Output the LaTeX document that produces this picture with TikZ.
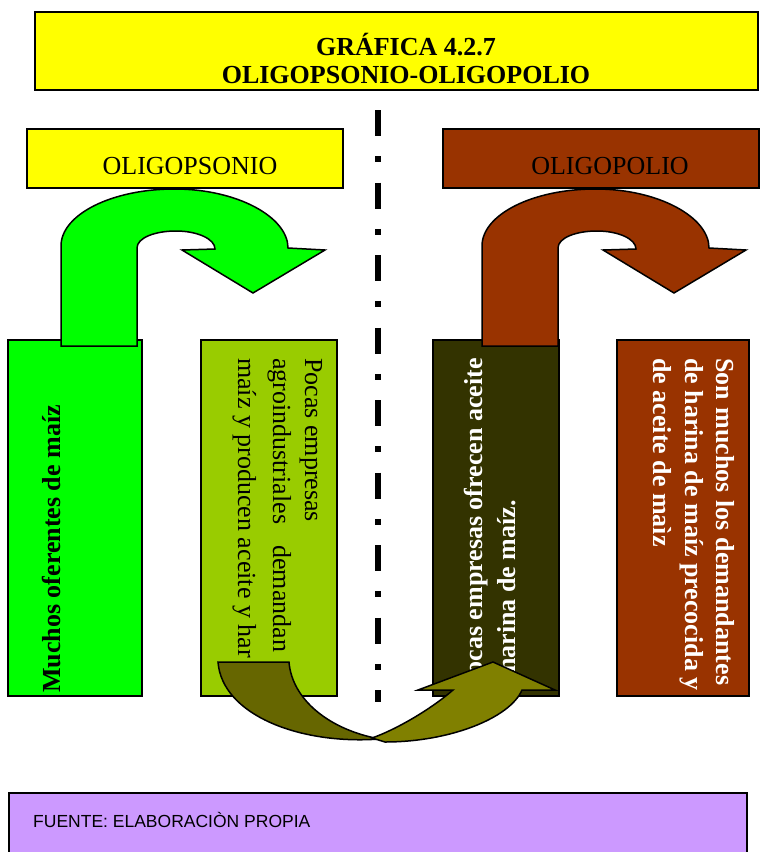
\documentclass[tikz,border=0pt]{standalone}
\usepackage{fontspec}
\setmainfont{Liberation Serif}
\newfontfamily\footfont{Liberation Sans}

\definecolor{paneyellow}{HTML}{FFFF00}
\definecolor{panegreen}{HTML}{00FF00}
\definecolor{panelime}{HTML}{99CC00}
\definecolor{panedark}{HTML}{333300}
\definecolor{panebrown}{HTML}{993300}
\definecolor{olivedark}{HTML}{666600}
\definecolor{olivelight}{HTML}{808000}
\definecolor{paneviolet}{HTML}{CC99FF}

\begin{document}
\begin{tikzpicture}[
  x=1pt, y=-1pt,
  panel/.style={draw=black, line width=2pt, inner sep=0pt, outer sep=0pt},
  big/.style={inner sep=0pt, font=\fontsize{26}{30}\selectfont},
  bigbold/.style={inner sep=0pt, font=\fontsize{26}{30}\selectfont\bfseries},
  upright/.style={rotate=90, anchor=base east},
  upleft/.style={rotate=90, anchor=base west},
  downtext/.style={rotate=-90, anchor=base west},
  shapeline/.style={draw=black, line width=1.5pt, line join=miter},
  divider/.style={draw=black, line width=6pt, line cap=butt,
    dash pattern=on 26pt off 20.25pt on 6pt off 20.25pt},
  uturn/.pic={
    \path[pic actions] (61,346) -- (61,246)
      .. controls (61,214.5) and (111.8,189) .. (174.5,189)
      .. controls (237.2,189) and (288,217) .. (288,248)
      -- (325,250) -- (253,293) -- (182,250) -- (215,249)
      .. controls (215,239) and (197.5,231) .. (176,231)
      .. controls (154.5,231) and (137,238) .. (137,248)
      -- (137,346) -- cycle;
  }
]
\useasboundingbox (0,0) rectangle (760,852);

% title banner
\node[panel, fill=paneyellow, minimum width=723pt, minimum height=78pt] (title) at (396.5,51) {};
\node[bigbold, anchor=base] (titleA) at (406,55) {GRÁFICA 4.2.7};
\node[bigbold, anchor=base] (titleB) at (406,83) {OLIGOPSONIO-OLIGOPOLIO};

% market headers
\node[panel, fill=paneyellow, minimum width=316pt, minimum height=59pt] (hdrL) at (185,158.5) {};
\node[big, anchor=base] (hdrLtxt) at (190,174) {OLIGOPSONIO};
\node[panel, fill=panebrown, minimum width=316pt, minimum height=59pt] (hdrR) at (601,158.5) {};
\node[big, anchor=base] (hdrRtxt) at (610,174) {OLIGOPOLIO};

% vertical boxes
\node[panel, fill=panegreen, minimum width=134pt, minimum height=356pt] (boxA) at (75,518) {};
\node[panel, fill=panelime, minimum width=136pt, minimum height=356pt] (boxB) at (269,518) {};
\node[panel, fill=panedark, minimum width=126pt, minimum height=356pt] (boxC) at (496,518) {};
\node[panel, fill=panebrown, minimum width=132pt, minimum height=356pt] (boxD) at (683,518) {};

% box texts
\node[bigbold, upleft] (txtA) at (60,693) {Muchos oferentes de maíz};

\node[big, downtext] (txtB1) at (305,358) {Pocas empresas};
\node[big, downtext] (txtB2) at (273,358) {\makebox[294pt][s]{agroindustriales demandan}};
\node[big, downtext] (txtB3) at (238,358) {maíz y producen aceite y har};

\node[bigbold, text=white, upright] (txtC1) at (482,358) {Pocas empresas ofrecen aceite};
\node[bigbold, text=white, upright] (txtC2) at (515,500) {harina de maíz.};

\begin{scope}
  \clip (boxD.south west) rectangle (boxD.north east);
  \node[bigbold, text=white, downtext] (txtD1) at (716,358) {\makebox[327pt][s]{Son muchos los demandantes}};
  \node[bigbold, text=white, downtext] (txtD2) at (685,358) {de harina de maíz precocida y};
  \node[bigbold, text=white, downtext] (txtD3) at (653,358) {de aceite de maìz};
\end{scope}

% bent arrows over the headers
\pic[shapeline, fill=panegreen] at (0,0) {uturn};
\pic[shapeline, fill=panebrown] at (421,0) {uturn};

% curved arrow linking both markets
\path[shapeline, fill=olivedark] (218,662) -- (289,662)
  .. controls (292,700) and (330,730) .. (380,739)
  .. controls (300,745) and (222,715) .. (218,662) -- cycle;
\path[shapeline, fill=olivelight] (372,738)
  .. controls (395,730) and (430,710) .. (453,690)
  -- (418,690) -- (493,662) -- (555,690) -- (522,690)
  .. controls (510,718) and (450,742) .. (385,742) -- cycle;

% divider
\coordinate (divTop) at (378,110);
\coordinate (divBot) at (378,702);
\draw[divider] (divTop) -- (divBot);

% source note
\node[panel, fill=paneviolet, anchor=north west, minimum width=738pt, minimum height=70pt] (source) at (9,793) {};
\node[inner sep=0pt, anchor=base west, font=\footfont\fontsize{17.5}{20}\selectfont] (sourcetxt) at (33,827) {FUENTE: ELABORACIÒN PROPIA};
\end{tikzpicture}
\end{document}
